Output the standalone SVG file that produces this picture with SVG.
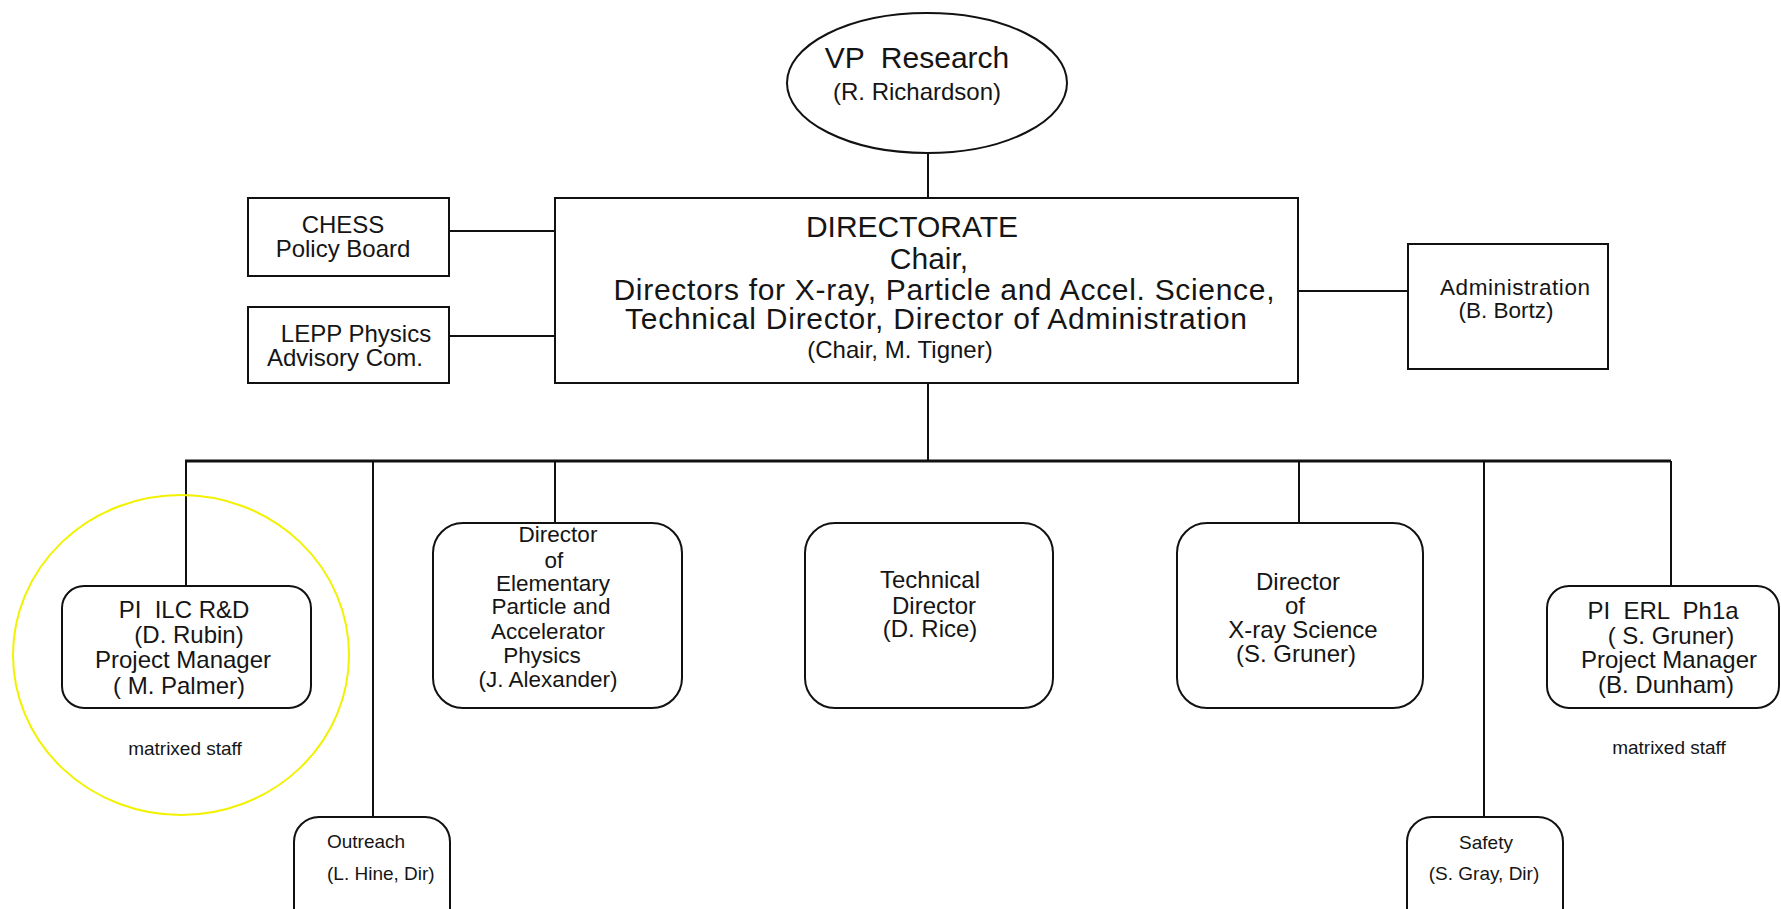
<svg xmlns="http://www.w3.org/2000/svg" width="1781" height="909" viewBox="0 0 1781 909">
<style>
.box{fill:#fff;stroke:#111;stroke-width:2}
.ln{stroke:#111;stroke-width:2;fill:none}
text{font-family:"Liberation Sans",Arial,sans-serif;fill:#151515;text-anchor:middle}
.big{font-size:30px}
.md{font-size:24px}
.ms{font-size:22.5px}
.sm{font-size:19px}
</style>
<rect width="1781" height="909" fill="#fff"/>
<g id="connectors">
<line class="ln" x1="928" y1="153" x2="928" y2="198"/>
<line class="ln" x1="449" y1="231" x2="555" y2="231"/>
<line class="ln" x1="449" y1="336" x2="555" y2="336"/>
<line class="ln" x1="1298" y1="291" x2="1408" y2="291"/>
<line class="ln" x1="928" y1="383" x2="928" y2="461"/>
<line x1="185" y1="461" x2="1671" y2="461" stroke="#111" stroke-width="3"/>
<line class="ln" x1="186" y1="461" x2="186" y2="586"/>
<line class="ln" x1="373" y1="461" x2="373" y2="817"/>
<line class="ln" x1="555" y1="461" x2="555" y2="523"/>
<line class="ln" x1="1299" y1="461" x2="1299" y2="523"/>
<line class="ln" x1="1484" y1="461" x2="1484" y2="817"/>
<line class="ln" x1="1671" y1="461" x2="1671" y2="586"/>
</g>
<g id="vp">
<ellipse class="box" cx="927" cy="83" rx="140" ry="70"/>
<text class="big" x="917" y="68" xml:space="preserve">VP  Research</text>
<text class="md" x="917" y="100">(R. Richardson)</text>
</g>
<g id="chess">
<rect class="box" x="248" y="198" width="201" height="78"/>
<text class="md" x="343" y="233">CHESS</text>
<text class="md" x="343" y="257">Policy Board</text>
</g>
<g id="lepp">
<rect class="box" x="248" y="307" width="201" height="76"/>
<text class="md" x="356" y="342">LEPP Physics</text>
<text class="md" x="345" y="366">Advisory Com.</text>
</g>
<g id="directorate">
<rect class="box" x="555" y="198" width="743" height="185"/>
<text class="big" x="912" y="237">DIRECTORATE</text>
<text class="big" x="929" y="269">Chair,</text>
<text class="big" x="944" y="300" textLength="661">Directors for X-ray, Particle and Accel. Science,</text>
<text class="big" x="936" y="329" textLength="622">Technical Director, Director of Administration</text>
<text class="md" x="900" y="358">(Chair, M. Tigner)</text>
</g>
<g id="administration">
<rect class="box" x="1408" y="244" width="200" height="125"/>
<text class="ms" x="1515" y="295" textLength="150">Administration</text>
<text class="ms" x="1506" y="318">(B. Bortz)</text>
</g>
<g id="ilc">
<ellipse cx="181" cy="655" rx="168" ry="160" fill="none" stroke="#f2f200" stroke-width="2"/>
<rect class="box" x="62" y="586" width="249" height="122" rx="22"/>
<text class="md" x="184" y="618" xml:space="preserve">PI  ILC R&amp;D</text>
<text class="md" x="189" y="643">(D. Rubin)</text>
<text class="md" x="183" y="668">Project Manager</text>
<text class="md" x="179" y="694">( M. Palmer)</text>
<text class="sm" x="185" y="755">matrixed staff</text>
</g>
<g id="outreach">
<rect class="box" x="294" y="817" width="156" height="120" rx="25"/>
<text class="sm" x="327" y="848" style="text-anchor:start">Outreach</text>
<text class="sm" x="327" y="880" style="text-anchor:start">(L. Hine, Dir)</text>
</g>
<g id="epap">
<rect class="box" x="433" y="523" width="249" height="185" rx="30"/>
<text class="ms" x="558" y="542">Director</text>
<text class="ms" x="554" y="568">of</text>
<text class="ms" x="553" y="591">Elementary</text>
<text class="ms" x="551" y="614">Particle and</text>
<text class="ms" x="548" y="639">Accelerator</text>
<text class="ms" x="542" y="663">Physics</text>
<text class="ms" x="548" y="687">(J. Alexander)</text>
</g>
<g id="techdir">
<rect class="box" x="805" y="523" width="248" height="185" rx="30"/>
<text class="md" x="930" y="588">Technical</text>
<text class="md" x="934" y="614">Director</text>
<text class="md" x="930" y="637">(D. Rice)</text>
</g>
<g id="xray">
<rect class="box" x="1177" y="523" width="246" height="185" rx="30"/>
<text class="md" x="1298" y="590">Director</text>
<text class="md" x="1295" y="614">of</text>
<text class="md" x="1303" y="638">X-ray Science</text>
<text class="md" x="1296" y="662">(S. Gruner)</text>
</g>
<g id="safety">
<rect class="box" x="1407" y="817" width="156" height="120" rx="25"/>
<text class="sm" x="1486" y="849">Safety</text>
<text class="sm" x="1484" y="880">(S. Gray, Dir)</text>
</g>
<g id="erl">
<rect class="box" x="1547" y="586" width="232" height="122" rx="22"/>
<text class="md" x="1663" y="619" xml:space="preserve">PI  ERL  Ph1a</text>
<text class="md" x="1671" y="644">( S. Gruner)</text>
<text class="md" x="1669" y="668">Project Manager</text>
<text class="md" x="1666" y="693">(B. Dunham)</text>
<text class="sm" x="1669" y="754">matrixed staff</text>
</g>
</svg>
